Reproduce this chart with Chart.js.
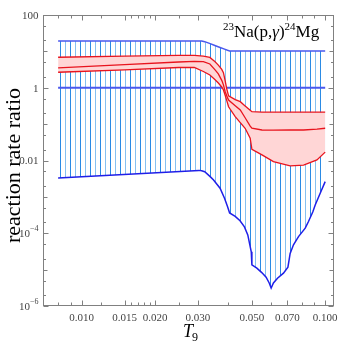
<!DOCTYPE html>
<html>
<head>
<meta charset="utf-8">
<script src="https://cdn.jsdelivr.net/npm/chart.js@4.4.0/dist/chart.umd.min.js"></script>
<style>
  html, body { margin: 0; padding: 0; background: #fff; }
</style>
</head>
<body>
<canvas id="chart" width="339" height="343"></canvas>
<script>
// blue band (upper / lower limits of the ratio)
const blueT = [0.008, 0.0303, 0.0311, 0.032, 0.0337, 0.0348, 0.037, 0.0386, 0.0397, 0.0405, 0.0427, 0.0447, 0.0466,
  0.0481, 0.0492, 0.0497, 0.05, 0.0524, 0.0549, 0.0572, 0.0589, 0.06, 0.0613, 0.0637, 0.0674, 0.0703, 0.0711,
  0.0718, 0.0741, 0.0777, 0.0828, 0.0854, 0.089, 0.091, 0.0954, 0.1];
const blueHi = [19.3, 19.4, 19.4, 18.5, 16.3, 15.0, 12.8, 11.5, 10.7, 10.3, 10.3, 10.3, 10.3,
  10.3, 10.3, 10.3, 10.3, 10.3, 10.3, 10.3, 10.3, 10.3, 10.3, 10.3, 10.3, 10.3, 10.3,
  10.3, 10.3, 10.3, 10.3, 10.3, 10.3, 10.3, 10.3, 10.3];
const blueLo = [3.3e-3, 5.35e-3, 5.2e-3, 4.9e-3, 3.6e-3, 2.9e-3, 1.73e-3, 9.2e-4, 5.4e-4, 3.6e-4, 2.9e-4, 2.2e-4, 1.5e-4,
  9e-5, 4.3e-5, 3.1e-5, 1.35e-5, 1.1e-5, 8.3e-6, 6.2e-6, 4.3e-6, 3.1e-6, 4.3e-6, 5.8e-6, 8e-6, 1.17e-5, 1.86e-5,
  2.8e-5, 4.8e-5, 8.1e-5, 1.38e-4, 2.1e-4, 3.9e-4, 6e-4, 1.26e-3, 2.63e-3];

// red band (present rate ratio, low / median / high)
const redT = [0.008, 0.015, 0.025, 0.029, 0.0316, 0.0336, 0.0353, 0.0364, 0.0376, 0.0382, 0.0388, 0.0394, 0.0401,
  0.0427, 0.0448, 0.0469, 0.0492, 0.05, 0.055, 0.0613, 0.0718, 0.0815, 0.0925, 0.1];
const redHi = [6.9, 7.4, 7.8, 7.8, 7.4, 6.8, 5.2, 4.2, 3.2, 2.6, 1.6, 0.95, 0.6,
  0.47, 0.415, 0.316, 0.24, 0.22, 0.215, 0.213, 0.213, 0.213, 0.213, 0.213];
const redMid = [3.5, 4.3, 5.1, 5.3, 5.2, 4.5, 3.1, 2.4, 1.6, 1.2, 0.8, 0.6, 0.46,
  0.32, 0.245, 0.15, 0.088, 0.077, 0.069, 0.068, 0.069, 0.069, 0.073, 0.077];
const redLo = [2.67, 3.1, 3.6, 3.6, 2.8, 2.25, 1.65, 1.35, 1.05, 0.87, 0.63, 0.45, 0.30,
  0.16, 0.11, 0.077, 0.041, 0.0204, 0.0143, 0.0093, 0.0071, 0.0075, 0.0104, 0.017];

const unityT = [0.008, 0.1];
const unity = [1, 1];

const xTicks = [0.01, 0.015, 0.02, 0.03, 0.05, 0.07, 0.1];
const xTickLabels = ['0.010', '0.015', '0.020', '0.030', '0.050', '0.070', '0.100'];
const xMinor = [0.008, 0.009, 0.012, 0.016, 0.017, 0.018, 0.019, 0.025, 0.04, 0.06, 0.08, 0.09];
const yTicks = [100, 1, 0.01, 1e-4, 1e-6];
const yTickLabels = [['100', ''], ['1', ''], ['0.01', ''], ['10', '\u22124'], ['10', '\u22126']];
const yMinor = [10, 0.1, 1e-3, 1e-5, 50, 20, 5, 2, 0.5, 0.2, 0.05, 0.02, 5e-3, 2e-3, 5e-4, 2e-4, 5e-5, 2e-5, 5e-6, 2e-6];

const pts = (xs, ys) => xs.map((v, i) => ({ x: v, y: ys[i] }));

function hatch() {
  const c = document.createElement('canvas');
  c.width = 10; c.height = 4;
  const g = c.getContext('2d');
  g.fillStyle = '#2a8ae4';
  g.fillRect(0, 0, 1, 4);
  g.fillStyle = '#86c0f0';
  g.fillRect(5, 0, 1, 4);
  return g.createPattern(c, 'repeat');
}

const SERIF = '"Liberation Serif", "DejaVu Serif", serif';

const frame = {
  id: 'frame',
  afterDraw(chart) {
    const { ctx, chartArea: a, scales: { x, y } } = chart;
    const L = Math.round(a.left) - 0.5, R = Math.round(a.right) - 0.5;
    const T = Math.round(a.top) + 0.5, B = Math.round(a.bottom) - 0.5;
    ctx.save();
    ctx.strokeStyle = '#808080';
    ctx.lineWidth = 1;
    ctx.strokeRect(L, T, R - L, B - T);
    ctx.beginPath();
    const xt = (v, len) => {
      const p = Math.round(x.getPixelForValue(v)) + 0.5;
      ctx.moveTo(p, B); ctx.lineTo(p, B - len);
      ctx.moveTo(p, T); ctx.lineTo(p, T + len);
    };
    const yt = (v, len) => {
      const p = Math.round(y.getPixelForValue(v)) + 0.5;
      ctx.moveTo(L, p); ctx.lineTo(L + len, p);
      ctx.moveTo(R, p); ctx.lineTo(R - len, p);
    };
    xTicks.forEach(v => xt(v, 5));
    xMinor.forEach(v => xt(v, 3));
    yTicks.forEach(v => yt(v, 5));
    yMinor.forEach(v => yt(v, [10, 0.1, 1e-3, 1e-5].includes(v) ? 4 : 2.5));
    ctx.stroke();

    ctx.fillStyle = '#444';
    ctx.font = '11px ' + SERIF;
    ctx.textAlign = 'center';
    ctx.textBaseline = 'top';
    xTicks.forEach((v, i) => ctx.fillText(xTickLabels[i], x.getPixelForValue(v), B + 7));
    ctx.textBaseline = 'middle';
    yTicks.forEach((v, i) => {
      const [base, exp] = yTickLabels[i];
      const p = y.getPixelForValue(v);
      let right = L - 5;
      if (exp) {
        ctx.font = '8px ' + SERIF;
        ctx.textAlign = 'right';
        ctx.fillText(exp, right, p - 4);
        right -= ctx.measureText(exp).width;
      }
      ctx.font = '11px ' + SERIF;
      ctx.textAlign = 'right';
      ctx.fillText(base, right, p + 1);
    });

    // axis titles
    ctx.fillStyle = '#000';
    ctx.save();
    ctx.translate(14, (a.top + a.bottom) / 2 + 5);
    ctx.rotate(-Math.PI / 2);
    ctx.font = '22px ' + SERIF;
    ctx.textAlign = 'center';
    ctx.textBaseline = 'middle';
    ctx.fillText('reaction rate ratio', 0, 0);
    ctx.restore();

    ctx.textBaseline = 'alphabetic';
    ctx.textAlign = 'left';
    ctx.font = 'italic 18px ' + SERIF;
    const cx = (a.left + a.right) / 2 - 6;
    ctx.fillText('T', cx, 337);
    const tw = ctx.measureText('T').width;
    ctx.font = '12px ' + SERIF;
    ctx.fillText('9', cx + tw - 1, 341);

    // reaction label
    let px = 223;
    const base = 37;
    const part = (txt, font, dy) => {
      ctx.font = font;
      ctx.fillText(txt, px, base + dy);
      px += ctx.measureText(txt).width;
    };
    part('23', '11px ' + SERIF, -7);
    part('Na(p,', '17px ' + SERIF, 0);
    part('\u03b3', 'italic 17px ' + SERIF, 0);
    part(')', '17px ' + SERIF, 0);
    part('24', '11px ' + SERIF, -7);
    part('Mg', '17px ' + SERIF, 0);
    ctx.restore();
  }
};

new Chart(document.getElementById('chart'), {
  type: 'line',
  data: {
    datasets: [
      { data: pts(blueT, blueHi), borderColor: '#4a58ee', borderWidth: 1.5, fill: '+1', backgroundColor: hatch(), order: 10 },
      { data: pts(blueT, blueLo), borderColor: '#1f1fe8', borderWidth: 1.5, fill: false, order: 9 },
      { data: pts(unityT, unity), borderColor: '#4a58ee', borderWidth: 2, fill: false, order: 8 },
      { data: pts(redT, redHi), borderColor: '#e8141e', borderWidth: 1.3, fill: '+1', backgroundColor: '#ffd6d6', order: 7 },
      { data: pts(redT, redLo), borderColor: '#e8141e', borderWidth: 1.3, fill: false, order: 6 },
      { data: pts(redT, redMid), borderColor: '#e8141e', borderWidth: 1.3, fill: false, order: 5 }
    ]
  },
  options: {
    responsive: false,
    animation: false,
    parsing: true,
    layout: { padding: { top: 15, right: 5, left: 0, bottom: 0 } },
    elements: { point: { radius: 0 }, line: { tension: 0 } },
    plugins: { legend: { display: false }, tooltip: { enabled: false } },
    scales: {
      x: {
        type: 'logarithmic', min: 0.007, max: 0.1087,
        grid: { display: false }, border: { display: false }, ticks: { display: false },
        afterFit: s => { s.height = 37; }
      },
      y: {
        type: 'logarithmic', min: 1e-6, max: 100,
        grid: { display: false }, border: { display: false }, ticks: { display: false },
        afterFit: s => { s.width = 44; }
      }
    }
  },
  plugins: [frame]
});
</script>
</body>
</html>
